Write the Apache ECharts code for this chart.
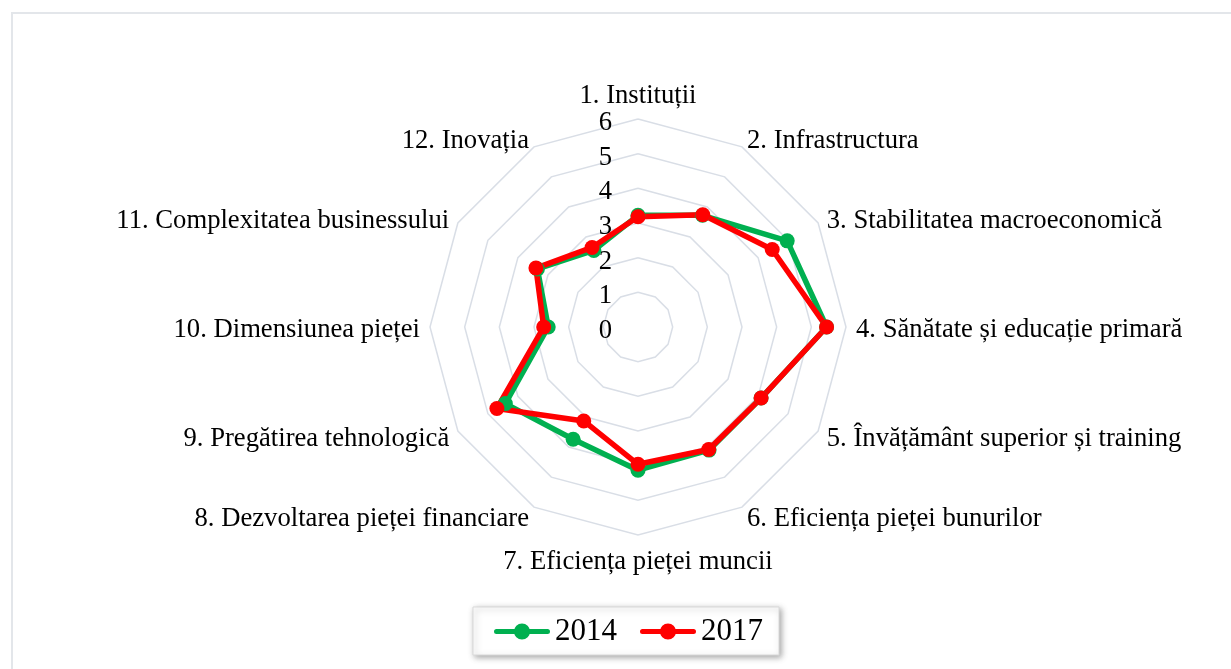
<!DOCTYPE html>
<html>
<head>
<meta charset="utf-8">
<script src="https://cdn.jsdelivr.net/npm/echarts@6/dist/echarts.min.js"></script>
<style>
  html, body { margin: 0; padding: 0; background: #ffffff; }
  #chart { width: 1231px; height: 669px; }
</style>
</head>
<body>
<div id="chart"></div>
<script>
// Indicators in the original (clockwise) order
var categories = [
  '1. Instituții',
  '2. Infrastructura',
  '3. Stabilitatea macroeconomică',
  '4. Sănătate și educație primară',
  '5. Învățământ superior și training',
  '6. Eficiența pieței bunurilor',
  '7. Eficiența pieței muncii',
  '8. Dezvoltarea pieței financiare',
  '9. Pregătirea tehnologică',
  '10. Dimensiunea pieței',
  '11. Complexitatea businessului',
  '12. Inovația'
];
var values2014 = [3.22, 3.72, 4.97, 5.44, 4.1, 4.1, 4.13, 3.74, 4.42, 2.59, 3.35, 2.55];
var values2017 = [3.18, 3.74, 4.47, 5.44, 4.1, 4.08, 3.96, 3.13, 4.7, 2.72, 3.4, 2.65];
var seriesNames = ['2014', '2017'];
var axisMin = 0;
var axisMax = 6;
var axisSplits = 6;

// ECharts radar runs counter-clockwise; reorder so the picture runs clockwise
function clockwise(arr) {
  return [arr[0]].concat(arr.slice(1).reverse());
}

var FONT = '"Liberation Serif", "Times New Roman", serif';
var indicators = clockwise(categories).map(function (name, i) {
  return {
    name: name,
    min: axisMin,
    max: axisMax,
    axisLabel: { show: i === 0 }
  };
});

// legend icon: line with a circle marker in the middle (56 x 16 box)
var LINE_MARKER_ICON = 'path://M2.5,5.5 L53.5,5.5 A2.5,2.5 0 1,1 53.5,10.5 L2.5,10.5 A2.5,2.5 0 1,1 2.5,5.5 Z ' +
  'M20,8 A8,8 0 1,1 36,8 A8,8 0 1,1 20,8 Z';

var nameText = { color: '#000', fontFamily: FONT, fontSize: 26.67 };

var chart = echarts.init(document.getElementById('chart'), null, { renderer: 'canvas' });
chart.setOption({
  animation: false,
  backgroundColor: '#ffffff',
  graphic: [{
    type: 'rect',
    shape: { x: 12, y: 13, width: 1240, height: 680 },
    style: { fill: 'none', stroke: '#E3E6EA', lineWidth: 2 },
    silent: true,
    z: -10
  }],
  legend: {
    left: 473,
    top: 607,
    padding: [9, 16, 8, 21],
    itemGap: 23,
    itemWidth: 56,
    itemHeight: 16,
    icon: LINE_MARKER_ICON,
    backgroundColor: '#ffffff',
    borderColor: '#D9D9D9',
    borderWidth: 1,
    shadowBlur: 6,
    shadowColor: 'rgba(0,0,0,0.35)',
    shadowOffsetX: 2,
    shadowOffsetY: 2,
    textStyle: { fontFamily: FONT, fontSize: 31, color: '#000' },
    data: seriesNames
  },
  radar: {
    center: [638, 327],
    radius: 208,
    shape: 'polygon',
    splitNumber: axisSplits,
    indicator: indicators,
    nameGap: 10,
    axisName: {
      color: '#000',
      fontFamily: FONT,
      fontSize: 26.67,
      verticalAlign: 'middle',
      formatter: function (name) {
        var cls = name === categories[0] ? 't' : (name === categories[6] ? 'b' : 'm');
        return '{' + cls + '|' + name + '}';
      },
      rich: {
        t: Object.assign({ padding: [0, 0, 22, 0] }, nameText),
        b: Object.assign({ padding: [34, 0, 0, 0] }, nameText),
        m: Object.assign({ padding: [6, 0, 0, 0] }, nameText)
      }
    },
    axisLine: { show: false },
    axisTick: { show: false },
    axisLabel: {
      show: false,
      color: '#000',
      fontFamily: FONT,
      fontSize: 26.67,
      margin: 26,
      formatter: '{v|{value}}',
      rich: { v: { color: '#000', fontFamily: FONT, fontSize: 26.67, padding: [8, 0, 0, 0] } }
    },
    splitLine: { lineStyle: { color: '#D9DEE6', width: 1.5 } },
    splitArea: { show: false }
  },
  series: [{
    type: 'radar',
    symbol: 'circle',
    symbolSize: 15,
    data: [
      {
        name: seriesNames[0],
        value: clockwise(values2014),
        lineStyle: { color: '#00B050', width: 5.5 },
        itemStyle: { color: '#00B050' }
      },
      {
        name: seriesNames[1],
        value: clockwise(values2017),
        lineStyle: { color: '#FF0000', width: 5.5 },
        itemStyle: { color: '#FF0000' }
      }
    ]
  }]
});
</script>
</body>
</html>
